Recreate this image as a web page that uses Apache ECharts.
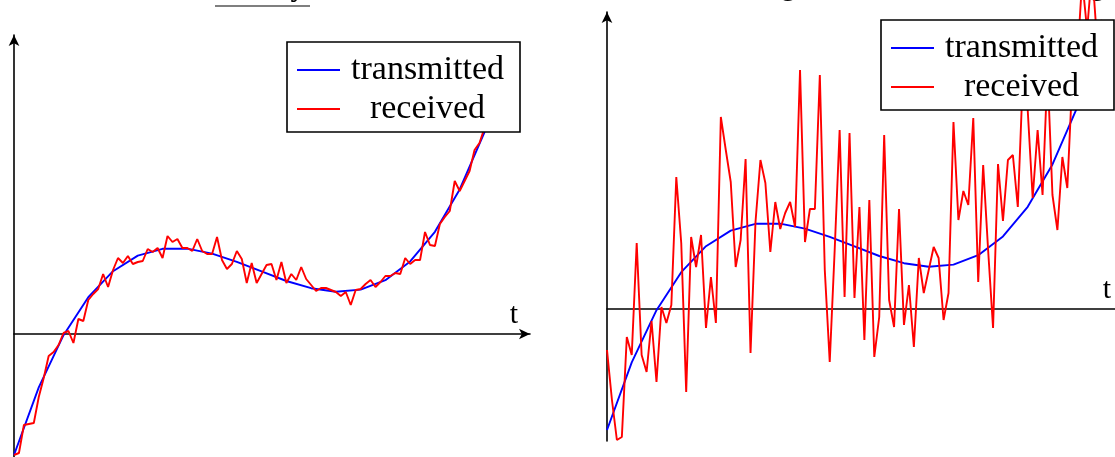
<!DOCTYPE html>
<html>
<head>
<meta charset="utf-8">
<script src="https://cdn.jsdelivr.net/npm/echarts@6/dist/echarts.min.js"></script>
<style>html,body{margin:0;padding:0;background:#fff}#c{width:1115px;height:457px}</style>
</head>
<body>
<div id="c"></div>
<script>
// sample times of the smooth transmitted signal
const tBlue = [0,0.5,1,1.5,2,2.5,3,3.5,4,4.5,5,5.5,6,6.5,7,7.5,8,8.5,9,9.5,10];
// transmitted signal (same in both panels)
const transmitted = [-6.05,-2.67,-0.06,1.84,3.14,3.92,4.26,4.27,4.02,3.61,3.13,2.65,2.29,2.11,2.22,2.69,3.63,5.11,7.23,10.08,13.74];
// sample times of the received signal
const tRed = [0,0.1,0.2,0.3,0.4,0.5,0.6,0.7,0.8,0.9,1,1.1,1.2,1.3,1.4,1.5,1.6,1.7,1.8,1.9,2,2.1,2.2,2.3,2.4,2.5,2.6,2.7,2.8,2.9,3,3.1,3.2,3.3,3.4,3.5,3.6,3.7,3.8,3.9,4,4.1,4.2,4.3,4.4,4.5,4.6,4.7,4.8,4.9,5,5.1,5.2,5.3,5.4,5.5,5.6,5.7,5.8,5.9,6,6.1,6.2,6.3,6.4,6.5,6.6,6.7,6.8,6.9,7,7.1,7.2,7.3,7.4,7.5,7.6,7.7,7.8,7.9,8,8.1,8.2,8.3,8.4,8.5,8.6,8.7,8.8,8.9,9,9.1,9.2,9.3,9.4,9.5,9.6,9.7,9.8,9.9,10];
// received signal, weak noise (left panel)
const receivedWeak = [-6.05,-5.95,-4.55,-4.5,-4.45,-3.15,-2.2,-1.1,-0.9,-0.55,0.05,0.15,-0.45,0.75,0.65,1.7,2.0,2.25,3.0,2.35,3.2,3.8,3.55,3.9,3.5,3.6,3.65,4.25,4.1,4.3,3.8,4.9,4.6,4.75,4.3,4.3,4.15,4.75,4.15,4.0,4.0,4.85,3.7,3.25,3.5,4.15,3.75,2.55,3.55,2.55,3.0,3.45,3.5,2.7,3.6,2.55,3.0,2.7,3.35,2.75,2.45,2.15,2.3,2.3,2.2,2.1,1.9,2.1,1.45,2.2,2.25,2.5,2.7,2.35,2.6,2.9,2.9,3.05,3.0,3.8,3.5,3.7,3.7,5.1,4.45,4.4,5.5,5.85,6.15,7.65,7.15,7.65,8.15,9.2,9.55,10.3,11.2,11.7,12.45,13.1,13.8];
// received signal, strong noise (right panel)
const receivedStrong = [-2.05,-4.55,-6.55,-6.4,-1.4,-2.3,3.3,-2.3,-3.15,-0.6,-3.65,0.1,-0.7,0.2,6.6,3.3,-4.15,3.6,2.1,3.7,-0.95,1.6,-0.7,9.6,7.95,6.35,2.1,3.45,7.5,-2.2,4.35,7.45,6.3,2.85,5.35,4.0,4.8,5.35,4.1,11.95,3.35,5.0,5.0,11.7,1.95,-2.65,2.95,8.95,0.6,8.8,0.55,5.1,-1.55,5.45,-2.4,-0.4,8.7,0.45,-0.9,5.0,-0.8,1.2,-1.9,2.55,0.8,1.95,3.1,2.55,-0.55,0.8,9.35,4.45,5.9,5.2,9.55,1.35,7.2,2.95,-0.95,7.25,4.4,7.45,7.7,5.1,11.45,9.95,5.55,8.95,5.7,11.95,5.7,3.95,7.6,6.05,11.45,12.45,16.45,13.95,16.95,13.45,14.45];
const seriesNames = ['transmitted', 'received'];
const axisName = 't';

const FONT = 'Liberation Serif';
const zip = (xs, ys) => xs.map((x, i) => [x, ys[i]]);

function axisLine(){
  return {show:true, onZero:true, symbol:['none','arrow'], symbolSize:[8,11],
          lineStyle:{color:'#000', width:1.6}};
}
function xAx(idx, max, gap){
  return {type:'value', gridIndex:idx, min:0, max:max,
    axisLine:axisLine(), axisTick:{show:false}, axisLabel:{show:false}, splitLine:{show:false},
    name:axisName, nameLocation:'end', nameGap:gap,
    nameTextStyle:{fontFamily:FONT, fontSize:30, color:'#000', align:'center', verticalAlign:'bottom', padding:[0,0,4,0]}};
}
function yAx(idx, min, max){
  return {type:'value', gridIndex:idx, min:min, max:max,
    axisLine:axisLine(), axisTick:{show:false}, axisLabel:{show:false}, splitLine:{show:false}};
}
function legend(left, top){
  return {left:left, top:top, orient:'vertical', data:seriesNames,
    padding:[11,13,6,10], itemGap:5, itemWidth:43, itemHeight:2, icon:'rect',
    backgroundColor:'#fff', borderColor:'#000', borderWidth:1.6, borderRadius:0,
    formatter:'{a|{name}}',
    textStyle:{color:'#000', fontFamily:FONT, fontSize:34,
      rich:{a:{width:159, height:32, lineHeight:32, align:'center', padding:[0,0,0,3], fontFamily:FONT, fontSize:34, color:'#000'}}},
    selectedMode:false};
}
function line(name, color, x, y, idx, clip){
  return {name:name, type:'line', xAxisIndex:idx, yAxisIndex:idx, data:zip(x,y),
    symbol:'none', smooth:false, clip:clip, lineStyle:{color:color, width:1.9}, itemStyle:{color:color},
    emphasis:{disabled:true}, silent:true};
}

const chart = echarts.init(document.getElementById('c'));
chart.setOption({
  animation:false,
  backgroundColor:'#fff',
  grid:[
    {left:14, top:35, width:516, height:429, outerBoundsMode:'none', containLabel:false},
    {left:607, top:12, width:540, height:429, outerBoundsMode:'none', containLabel:false}
  ],
  xAxis:[xAx(0, 10.42, -16), xAx(1, 10.91, -40)],
  yAxis:[yAx(0, -6.5, 14.95), yAx(1, -6.6, 14.85)],
  legend:[legend(287, 42), legend(881, 20)],
  series:[
    line(seriesNames[0], '#0000ff', tBlue, transmitted, 0, true),
    line(seriesNames[1], '#ff0000', tRed, receivedWeak, 0, true),
    line(seriesNames[0], '#0000ff', tBlue, transmitted, 1, false),
    line(seriesNames[1], '#ff0000', tRed, receivedStrong, 1, false)
  ],
  graphic:[
    {type:'text', x:306, y:2, silent:true,
      style:{text:'Weak noise: clearly', font:'31px "Liberation Serif"', fill:'#000', align:'right', verticalAlign:'bottom'}},
    {type:'line', silent:true, shape:{x1:215, y1:6, x2:310, y2:6}, style:{stroke:'#000', lineWidth:1.2}},
    {type:'text', x:796, y:1, silent:true,
      style:{text:'Strong', font:'31px "Liberation Serif"', fill:'#000', align:'right', verticalAlign:'bottom'}},
    {type:'text', x:1105, y:1, silent:true,
      style:{text:'noise: almost nothing', font:'31px "Liberation Serif"', fill:'#000', align:'right', verticalAlign:'bottom'}}
  ]
});
</script>
</body>
</html>
